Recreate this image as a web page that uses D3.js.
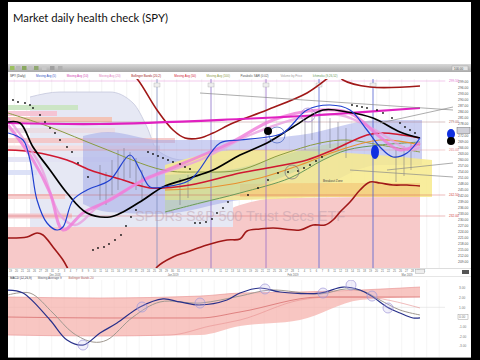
<!DOCTYPE html>
<html><head><meta charset="utf-8">
<script src="https://cdn.jsdelivr.net/npm/d3@7/dist/d3.min.js"></script>
<style>html,body{margin:0;padding:0;background:#000}svg{display:block}</style>
</head><body>
<svg id="c" width="480" height="360"></svg>
<script>
// ---------- DATA ----------
const title = "Market daily health check (SPY)";
const watermark = "SPDRs S&P 500 Trust Secs ETF";
const priceTicks = [299,296,293,290,287,284,281,278,275,272,269,266,263,260,257,254,251,248,245,242,239,236,233,230,227,224,221,218,215,212,209];
const lowTicks = [3,2,1,0,-1,-2,-3];
const dateLabels = "19 20 21 24 26 27 28 31 2 3 4 7 8 9 10 11 14 15 16 17 18 22 23 24 25 28 29 30 31 1 4 5 6 7 8 11 12 13 14 15 19 20 21 22 25 26 27 28 1 4 5 6 7 8 11 12 13 14 15 18 19 20 21 22 25 26 27 28 29 1".split(" ");
const monthLabels = ["Dec 2018","Jan 2019","Feb 2019","Mar 2019"];
const monthLabelU = [18.8,66,114,159.6];
const legendTop = ["SPY (Daily)","Moving Avg (5)","Moving Avg (10)","Moving Avg (20)","Bollinger Bands (20,2)","Moving Avg (50)","Moving Avg (100)","Parabolic SAR (0.02)","Volume by Price","Ichimoku (9,26,52)"];
const legendLow = ["MACD (12,26,9)","Moving Average 9","Bollinger Bands 20"];

// volume-by-price stripes
const vpPrice = [286.25,283.25,280.25,274.75,269.75,266,260.25,253.75,241.75,232];
const vpLen   = [28,19.6,41.6,42.8,66.8,60.8,59.6,11.6,22.8,25.6];

// price level lines
const levelP = [299.5,279,265,242.5,232];
const levelLabel = ["299.50","279.00","265.00","242.50","232.00"];

// month separators
const monthLineU = [59.6,81.2,103.2,124.4,146];

// shaded zones
const pinkTop   = [[0,226.5],[36.8,226.5],[76.8,229],[92.8,237.5],[108.8,241],[164.8,241.5]];
const cloudTop  = [[8.8,291.5],[20.8,294],[40.8,294],[50,288.5],[55.6,276.5],[59.6,265],[70,260],[90,260]];
const blueUpper = [[30,272],[40,274],[60.8,270],[92.8,270],[116.8,272.5],[148.8,280],[165.6,280]];
const blueLower = [[30,238],[40,234],[60.8,233],[92.8,240],[116.8,242.5],[148.8,257.5],[165.6,257.5]];
const yellowUpper = [[62.8,257.5],[92.8,265],[128.8,264],[169.6,260]];
const yellowLower = [[62.8,240],[92.8,240],[128.8,241.5],[169.6,241.5]];
const orangeUpper = [[92.8,248],[128.8,248.5],[164.8,248.5]];
const orangeLower = [[92.8,241.5],[128.8,241.5],[164.8,241.5]];
const greenUpper = [[62.8,252.5],[92.8,256],[108.8,262],[126,267.5],[135.6,269]];
const greenLower = [[62.8,234],[92.8,243.5],[108.8,251],[126,260],[135.6,265]];

// lines [dayIndex, price]
const blackLine = [[0,279],[4.8,278.5],[10,266.5],[16.8,255],[23.6,243.5],[31.6,233.5],[40.8,231.5],[46,234],[54,240],[62,246.5],[72.8,251],[82,255],[92.8,262.5],[103.6,268.5],[114,276.5],[126,285],[135.6,284],[146,281],[156.8,274],[164.8,271]];
const blueLine = [[0,273.5],[6,270],[8.8,260],[11.6,240],[15.6,228.5],[19.6,225],[22,226.5],[26,240],[31.6,245],[40.8,250],[48.8,262.5],[52.8,255],[56.8,246.5],[62,246.5],[72.8,250],[84.8,268.5],[92.8,270],[100.8,271],[110,273.5],[119.6,285],[128.8,287.5],[136.8,285],[143.6,275],[148.8,266.5],[154,261.5],[159.6,263.5],[164.8,271]];
const magentaLine = [[0,278.5],[36.8,278],[92.8,280.5],[124.8,282.5],[164.8,286]];
const upperBand = [[48,305],[52,300],[59.6,285],[66,275],[70.8,271],[76.8,271],[82,273.5],[90,278.5],[103.6,285],[119.6,293.5],[128,301],[131,304],[134,300],[144.8,296.5],[164.8,297]];
const lowerBand = [[0,221],[7.6,221.5],[11.6,223.5],[14,222.5],[18,216.5],[22,210],[23.6,206.5],[25,203],[40,196],[58,203],[59.6,206.5],[66,211.5],[71.6,214],[79.6,217.5],[87.6,220],[92.8,220.5],[95.6,224.5],[100.8,225.5],[106,226],[116.8,225],[122,227.5],[126.8,227.5],[130,230],[132.8,234],[136.8,239],[140.8,245],[144.8,249],[148.8,248.5],[154,247.5],[159.6,247.5],[164.8,247]];
const redLine = [[0,265],[10,264],[23.6,260],[32.8,255],[46,250],[56.8,246],[72.8,247.5],[92.8,253.5],[106,256.5],[119.6,260],[130,265],[143.6,272.5],[150,273.5],[164.8,271]];
const pinkLine = [[0,277.5],[10,260],[16.8,243.5],[22,225],[30,233.5],[40.8,240],[54,250],[63.6,255],[88.8,268.5],[106,280],[124.8,285],[136.8,283.5],[148.8,271.5],[156.8,265],[164.8,268.5]];
const pinkLine2 = [[0,281],[12.8,257.5],[20.8,232.5],[26.8,227.5],[36.8,237.5],[56.8,251],[76.8,260],[96.8,272.5],[116.8,281],[132.8,282.5],[146.8,275],[160.8,265],[164.8,266.5]];
const oliveLine = [[0,283.5],[16.8,276.5],[36.8,266.5],[62,255],[76.8,254],[92.8,255],[108.8,262.5],[124.8,268.5],[135.6,270],[148.8,267.5],[164.8,264]];
const greenLine = [[62.8,234],[76.8,238.5],[92.8,243.5],[112.8,251],[126,260],[135.6,265],[148.8,267.5],[164.8,269]];
const orangeLine = [[62.8,245],[82,246.5],[100.8,251],[116.8,257.5],[132.8,265],[148.8,270],[164.8,267.5]];

// parabolic SAR dots
const sarU = [2,4,6.8,8.8,10,12.8,14.8,16.8,18.8,20.8,23.6,25.6,28,32, 34,36,38.4,40.4,42.8,45.2,47.2,49.2,51.2, 56,58,60,62,64,66,68.8,70.8,72.8, 74.8,76.8,79.2,81.6,83.6,86,88, 96,100,104,108,112,116,118.4,120.8,123.2,125.6, 137.6,139.6,141.6,143.6,147.6,150,153.6,156.8,158.8,160.8,162.8];
const sarP = [290,289,288.5,287.5,286,282.5,279,276,273.5,270,266.5,264,258.5,251.5, 215,216,216.5,218,220,222.5,227,231.5,235, 264,263,262,261,260,259,258,256.5,255.5, 228.5,228.5,229,230.5,233.5,236,239, 242.5,246,250,253.5,254,254.5,256,257.5,259.5,261.5, 287.5,287,286.5,286,285,283.5,281,278.5,276.5,275,273.5];

// price bars
const barU  = [36.8,39.2,41.6,44,46.4,48.8,51.2,53.6,68.8,72,118.8,121.6,124.8,128.8,132,135.2,155.2,158.4,161.2];
const barHi = [257.5,254,260,265,266,264,261,255,251,252.5,282.5,284,285,281,279,276,265,267,269];
const barLo = [240,237.5,242.5,245,250,251,245,240,237.5,241,265,270,267.5,266,265,261,249,252,255];

// trend lines
const trendLines = [[[76.8,293.5],[178,285]],[[148.8,278.5],[178,286.5]],[[151.6,255],[178,258.5]],[[136.8,255],[178,251.5]]];

// annotations
const circleMarks = [[107.6,272.5],[120,282.5],[113.6,254]];

// lower panel (MACD)
const macdLine = [[0,2.78],[6,2.47],[16.8,-0.31],[23.6,-2.37],[30,-2.89],[36.8,-1.65],[43.6,-0.62],[52.8,1.03],[62,1.86],[68.8,1.55],[76.8,1.24],[87.6,1.75],[92.8,2.47],[100.8,2.99],[108.8,2.58],[124.8,2.47],[134,3.09],[140.8,2.78],[146,2.06],[151.6,1.03],[156.8,0.41],[162,-0.1],[164.8,-0.1]];
const signalLine = [[0,2.27],[8.8,2.47],[18,0.41],[26,-1.65],[34,-2.58],[39.6,-2.37],[50,0],[60.8,1.55],[76.8,1.44],[92.8,2.16],[104.8,2.78],[124.8,2.37],[135.2,2.89],[142.8,2.58],[148.8,1.75],[156.8,0.72],[164.8,0.21]];
const lowBandUpper = [[0,2.06],[36.8,1.96],[76.8,2.16],[92.8,2.47],[116.8,2.58],[140.8,2.78],[164.8,3.09]];
const lowBandLower = [[0,-1.86],[36.8,-1.96],[64.8,-1.86],[80.8,-0.93],[92.8,-0.31],[116.8,1.75],[128.8,2.06],[140.8,2.06],[164.8,0.93]];
const lowBandMid = [[0,0],[36.8,-0.1],[76.8,-0.1],[92.8,0.52],[124.8,2.06],[164.8,2.06]];
const lowCircles = [[30,-2.89],[53.6,1.03],[76.8,1.44],[102.8,2.89],[126,2.47],[137.2,3.3],[145.6,2.16],[152,0.93]];

// ---------- STYLE / LAYOUT ----------
const vpColor = ['#c9e4c0','#f6c0d0','#f4c0b0','#eadae2','#f4c4c4','#f7dada','#e2e2f4','#d8def6','#f6cccc','#f3c3c8'];
const levelColor = ['#e070d0','#a06060','#e08080','#d04040','#d04040'];
const monthLineColor = ['#8090c0','#8a70c8','#9a70c8','#5868d8','#5060d0'];
const legendTopColor = ['#333','#3050c0','#d040b0','#e080c0','#a01818','#d01830','#8a9a40','#555','#999','#6a9a5a'];

const svg = d3.select('#c');
const xS = d3.scaleLinear().domain([0,175]).range([8,445.5]);
const yS = d3.scaleLinear().domain([206,300]).range([268,80]);
const yL = d3.scaleLinear().domain([-4,4]).range([355.8,278.2]);

svg.append('rect').attr('width',480).attr('height',360).attr('fill','#000');
svg.append('rect').attr('x',8).attr('y',2).attr('width',463).attr('height',356).attr('fill','#fff');

const defs = svg.append('defs');
defs.append('clipPath').attr('id','pc').append('rect').attr('x',8).attr('y',79).attr('width',437.5).attr('height',189);
defs.append('clipPath').attr('id','lc').append('rect').attr('x',8).attr('y',280).attr('width',437.5).attr('height',77);
const tg = defs.append('linearGradient').attr('id','tb').attr('x1',0).attr('y1',0).attr('x2',0).attr('y2',1);
tg.append('stop').attr('offset','0%').attr('stop-color','#d8d8d8');
tg.append('stop').attr('offset','100%').attr('stop-color','#a9a9a9');

// title
svg.append('text').attr('x',13).attr('y',22).attr('font-family','Lato, "Open Sans", sans-serif')
  .attr('font-size',11.5).attr('fill','#111').attr('textLength',155).attr('lengthAdjust','spacingAndGlyphs').text(title);

// toolbar
svg.append('rect').attr('x',8).attr('y',64).attr('width',463).attr('height',8).attr('fill','url(#tb)');
[[10,'#9cc060'],[16,'#b8b8b8'],[22,'#8aa860'],[28,'#c0c0c0'],[34,'#90a870'],[42,'#c8c8c8'],[50,'#a0a0a0'],[58,'#b0b0b0']]
  .forEach(d=>svg.append('rect').attr('x',d[0]).attr('y',66).attr('width',4.5).attr('height',4).attr('fill',d[1]));
svg.append('rect').attr('x',452).attr('y',66).attr('width',16).attr('height',4.5).attr('fill','#e4e4e4').attr('stroke','#999').attr('stroke-width',0.4);
svg.append('text').attr('x',454).attr('y',69.6).attr('font-size',3).attr('font-family','Liberation Sans').attr('fill','#444').text('100.00');

// legend rows
let lx = 10;
legendTop.forEach((t,i)=>{
  svg.append('text').attr('x',lx).attr('y',77).attr('font-size',3).attr('font-family','Liberation Sans').attr('fill',legendTopColor[i]).text(t);
  lx += t.length*1.55 + 9;
});
let lx2 = 10;
legendLow.forEach((t,i)=>{
  svg.append('text').attr('x',lx2).attr('y',279).attr('font-size',3).attr('font-family','Liberation Sans').attr('fill',['#223','#556','#a55'][i]).text(t);
  lx2 += t.length*1.55+6;
});

// ---------- MAIN PLOT ----------
const P = svg.append('g').attr('clip-path','url(#pc)');
const areaBetween = (up,lo,fill,op)=>{
  const pts = up.map((d,i)=>[d[0],d[1],lo[i][1]]);
  P.append('path').datum(pts).attr('d',d3.area().x(d=>xS(d[0])).y0(d=>yS(d[2])).y1(d=>yS(d[1])).curve(d3.curveMonotoneX))
    .attr('fill',fill).attr('opacity',op);
};

// vertical grid
d3.range(2.5,175,5).forEach(u=>P.append('line').attr('x1',xS(u)).attr('x2',xS(u)).attr('y1',79).attr('y2',268).attr('stroke','#ececec').attr('stroke-width',0.6));

// pink zone
P.append('path').datum(pinkTop).attr('d',d3.area().x(d=>xS(d[0])).y0(yS(206)).y1(d=>yS(d[1])).curve(d3.curveMonotoneX)).attr('fill','#f7c9c9');
// cloud
P.append('path').datum(cloudTop).attr('d',d3.area().x(d=>xS(d[0])).y0(yS(226.5)).y1(d=>yS(d[1])).curve(d3.curveMonotoneX)).attr('fill','#e6e8f4');
P.append('path').datum(cloudTop).attr('d',d3.line().x(d=>xS(d[0])).y(d=>yS(d[1])).curve(d3.curveMonotoneX)).attr('fill','none').attr('stroke','#c4c6dc').attr('stroke-width',0.8);

// volume by price stripes
vpPrice.forEach((p,i)=>P.append('rect').attr('x',xS(0)).attr('y',yS(p+1.25)).attr('width',xS(vpLen[i])-xS(0)).attr('height',yS(p-1.25)-yS(p+1.25)).attr('fill',vpColor[i]).attr('opacity',0.9));

// blue, yellow, orange, green zones
areaBetween(blueUpper,blueLower,'#a2aae8',0.55);
areaBetween(yellowUpper,yellowLower,'#f7ea8c',0.85);
areaBetween(orangeUpper,orangeLower,'#f3c97c',0.75);
areaBetween(greenUpper,greenLower,'#bcd3a0',0.5);

// level lines
levelP.forEach((p,i)=>P.append('line').attr('x1',8).attr('x2',445.5).attr('y1',yS(p)).attr('y2',yS(p)).attr('stroke',levelColor[i]).attr('stroke-width',0.6).attr('opacity',0.6));

// month lines
monthLineU.forEach((u,i)=>{
  P.append('line').attr('x1',xS(u)).attr('x2',xS(u)).attr('y1',79).attr('y2',268).attr('stroke',monthLineColor[i]).attr('stroke-width',0.8);
  P.append('rect').attr('x',xS(u)-3).attr('y',83).attr('width',6).attr('height',4).attr('fill','#eee').attr('stroke','#999').attr('stroke-width',0.3);
});

// watermark
P.append('text').attr('x',xS(50.8)).attr('y',yS(229.5)).attr('font-family','Liberation Sans, Arial, sans-serif').attr('font-size',14.5)
  .attr('fill','#b89aa8').attr('opacity',0.45).attr('textLength',210).text(watermark);

// bars
barU.forEach((u,i)=>P.append('line').attr('x1',xS(u)).attr('x2',xS(u)).attr('y1',yS(barHi[i])).attr('y2',yS(barLo[i])).attr('stroke','#6a6a7a').attr('stroke-width',0.6).attr('opacity',0.8));

const ln = d3.line().x(d=>xS(d[0])).y(d=>yS(d[1])).curve(d3.curveCatmullRom.alpha(0.5));
const draw = (data,color,w,op=1)=>P.append('path').datum(data).attr('d',ln).attr('fill','none').attr('stroke',color).attr('stroke-width',w).attr('opacity',op).attr('stroke-linejoin','round');
draw(greenLine,'#6a9a5a',1);
draw(oliveLine,'#8a9a40',1);
draw(orangeLine,'#e89030',1.2);
draw(lowerBand,'#a01818',1.6);
draw(upperBand,'#a01818',1.6);
draw(redLine,'#d01830',1.6);
draw(pinkLine2,'#e8a0e0',2.4,0.8);
draw(pinkLine,'#f07ad8',3,0.8);
draw(magentaLine,'#e020c0',2.2);
draw(blackLine,'#000',1.7);
draw(blueLine,'#2040d0',1.2);

// SAR dots
sarU.forEach((u,i)=>P.append('circle').attr('cx',xS(u)).attr('cy',yS(sarP[i])).attr('r',0.9).attr('fill','#111'));

// annotations
P.append('circle').attr('cx',xS(circleMarks[0][0])).attr('cy',yS(circleMarks[0][1])).attr('r',8).attr('fill','none').attr('stroke','#4060c0').attr('stroke-width',0.7);
P.append('circle').attr('cx',xS(circleMarks[1][0])).attr('cy',yS(circleMarks[1][1])).attr('r',7).attr('fill','none').attr('stroke','#a080d0').attr('stroke-width',0.7);
P.append('circle').attr('cx',xS(circleMarks[2][0])).attr('cy',yS(circleMarks[2][1])).attr('r',7).attr('fill','none').attr('stroke','#707080').attr('stroke-width',0.7);
P.append('circle').attr('cx',xS(104)).attr('cy',yS(274.5)).attr('r',4).attr('fill','#000');
P.append('ellipse').attr('cx',xS(146.8)).attr('cy',yS(264)).attr('rx',4).attr('ry',7).attr('fill','#1030e0');
P.append('text').attr('x',xS(126)).attr('y',yS(249)).attr('font-size',3).attr('font-family','Liberation Sans').attr('fill','#444').text('Breakout Zone');

// trend lines (extend past plot)
trendLines.forEach(t=>svg.append('line').attr('x1',xS(t[0][0])).attr('y1',yS(t[0][1])).attr('x2',xS(t[1][0])).attr('y2',yS(t[1][1])).attr('stroke','#8a8a8a').attr('stroke-width',0.7));

// right markers
svg.append('ellipse').attr('cx',xS(177.2)).attr('cy',yS(273)).attr('rx',4).attr('ry',5).attr('fill','#1030e0');
svg.append('circle').attr('cx',xS(177.2)).attr('cy',yS(269.5)).attr('r',4).attr('fill','#000');

// right axis labels
priceTicks.forEach(p=>svg.append('text').attr('x',458).attr('y',yS(p)+1.2).attr('font-size',3.4).attr('font-family','Liberation Sans').attr('fill','#555').text(p.toFixed(2)));
levelP.forEach((p,i)=>svg.append('text').attr('x',449).attr('y',yS(p)+1.2).attr('font-size',3.2).attr('font-family','Liberation Sans').attr('fill',levelColor[i]).text(levelLabel[i]));
svg.append('rect').attr('x',457).attr('y',yS(275)-2.5).attr('width',13).attr('height',6).attr('fill','#d0d0d8').attr('stroke','#555').attr('stroke-width',0.4);

// date axis
svg.append('line').attr('x1',8).attr('x2',471).attr('y1',268.5).attr('y2',268.5).attr('stroke','#bbb').attr('stroke-width',0.5);
dateLabels.forEach((t,i)=>svg.append('text').attr('x',xS(i*2.4+1)).attr('y',272).attr('font-size',2.6).attr('text-anchor','middle').attr('font-family','Liberation Sans').attr('fill','#666').text(t));
monthLabels.forEach((t,i)=>svg.append('text').attr('x',xS(monthLabelU[i])).attr('y',275.5).attr('font-size',2.6).attr('text-anchor','middle').attr('font-family','Liberation Sans').attr('fill','#666').text(t));
svg.append('rect').attr('x',xS(163)).attr('y',269.5).attr('width',9).attr('height',4).attr('fill','#eee').attr('stroke','#999').attr('stroke-width',0.4);
svg.append('rect').attr('x',462).attr('y',270).attr('width',7).attr('height',4).attr('fill','#555');
svg.append('line').attr('x1',8).attr('x2',471).attr('y1',276.5).attr('y2',276.5).attr('stroke','#ccc').attr('stroke-width',0.5);

// ---------- LOWER PANEL ----------
const L = svg.append('g').attr('clip-path','url(#lc)');
d3.range(2.5,175,5).forEach(u=>L.append('line').attr('x1',xS(u)).attr('x2',xS(u)).attr('y1',280).attr('y2',357).attr('stroke','#efefef').attr('stroke-width',0.6));
L.append('line').attr('x1',8).attr('x2',445).attr('y1',yL(1)).attr('y2',yL(1)).attr('stroke','#ddd').attr('stroke-width',0.6);
L.append('path').datum(lowBandUpper.map((d,i)=>({u:d[0],hi:d[1],lo:lowBandLower[i][1]})))
  .attr('d',d3.area().x(d=>xS(d.u)).y0(d=>yL(d.lo)).y1(d=>yL(d.hi)).curve(d3.curveMonotoneX)).attr('fill','#f5b3ad').attr('opacity',0.75);
const lln = d3.line().x(d=>xS(d[0])).y(d=>yL(d[1])).curve(d3.curveMonotoneX);
L.append('path').datum(lowBandUpper).attr('d',lln).attr('fill','none').attr('stroke','#e89090').attr('stroke-width',0.6);
L.append('path').datum(lowBandLower).attr('d',lln).attr('fill','none').attr('stroke','#e89090').attr('stroke-width',0.6);
L.append('path').datum(lowBandMid).attr('d',lln).attr('fill','none').attr('stroke','#d87070').attr('stroke-width',0.8);
const lcr = d3.line().x(d=>xS(d[0])).y(d=>yL(d[1])).curve(d3.curveCatmullRom.alpha(0.5));
L.append('path').datum(signalLine).attr('d',lcr).attr('fill','none').attr('stroke','#a09890').attr('stroke-width',1);
L.append('path').datum(macdLine).attr('d',lcr).attr('fill','none').attr('stroke','#28308a').attr('stroke-width',1.2);
lowCircles.forEach(c=>L.append('circle').attr('cx',xS(c[0])).attr('cy',yL(c[1])).attr('r',5).attr('fill','#c8c0f0').attr('fill-opacity',0.25).attr('stroke','#a098d8').attr('stroke-width',0.7));
lowTicks.forEach(v=>svg.append('text').attr('x',459).attr('y',yL(v)+1.2).attr('font-size',3.2).attr('font-family','Liberation Sans').attr('fill','#777').text(v.toFixed(2)));
svg.append('rect').attr('x',458).attr('y',yL(0)-2.5).attr('width',10).attr('height',5).attr('fill','none').attr('stroke','#888').attr('stroke-width',0.4);
svg.append('line').attr('x1',8).attr('x2',471).attr('y1',357.5).attr('y2',357.5).attr('stroke','#999').attr('stroke-width',1);
</script>
</body></html>
